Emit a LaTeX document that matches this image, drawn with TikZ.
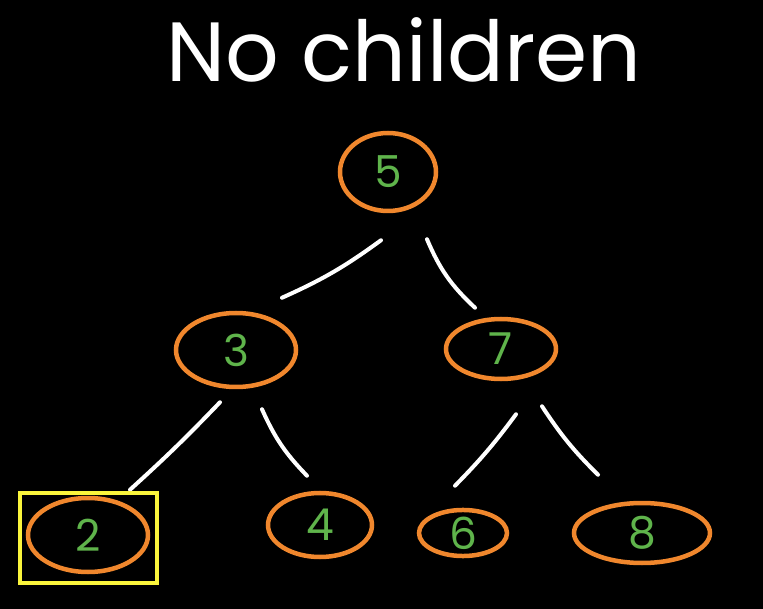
\documentclass[tikz,border=0pt]{standalone}
\usepackage{fontspec}
\setmainfont{Poppins}
\usetikzlibrary{shapes.geometric}
\definecolor{treeorange}{RGB}{240,135,45}
\definecolor{keygreen}{RGB}{95,180,75}
\definecolor{boxyellow}{RGB}{250,245,60}
\begin{document}
\begin{tikzpicture}[x=1pt,y=-1pt,
  key/.style={ellipse, draw=treeorange, line width=4.5pt, text=keygreen,
    font=\fontsize{44}{44}\selectfont, inner sep=0pt},
  edge/.style={white, line width=4pt, line cap=round}]
\fill[black] (0,0) rectangle (763,609);
\node[white, anchor=base, font=\fontsize{84}{84}\selectfont] (title) at (404,82) {No children};
% tree
\node[key, minimum width=96, minimum height=78] (n5) at (388,172) {5};
\node[key, minimum width=120, minimum height=74] (n3) at (236,350) {3};
\node[key, minimum width=110, minimum height=60] (n7) at (501,349) {7};
\node[key, minimum width=120, minimum height=74] (n2) at (88,535) {2};
\node[key, minimum width=104, minimum height=64] (n4) at (320,525) {4};
\node[key, minimum width=88, minimum height=44] (n6) at (463,533) {6};
\node[key, minimum width=136, minimum height=60] (n8) at (642,533) {8};
\draw[edge] ([shift={(-7,27)}]n5.south) to[bend left=6] ([shift={(46,-13)}]n3.north);
\draw[edge] ([shift={(39,26)}]n5.south) to[bend right=12] ([shift={(-26,-9)}]n7.north);
\draw[edge] ([shift={(-16,13)}]n3.south) to[bend left=2] ([shift={(42,-6)}]n2.north);
\draw[edge] ([shift={(26,20)}]n3.south) to[bend right=10] ([shift={(-13,-15)}]n4.north);
\draw[edge] ([shift={(15,33)}]n7.south) to[bend left=4] ([shift={(-8,-22)}]n6.north);
\draw[edge] ([shift={(41,25)}]n7.south) to[bend right=6] ([shift={(-44,-26)}]n8.north);
% leaf with no children
\draw[boxyellow, line width=3.5pt] ([shift={(-68,-42)}]n2.center) rectangle ([shift={(69,48)}]n2.center);
\end{tikzpicture}
\end{document}
